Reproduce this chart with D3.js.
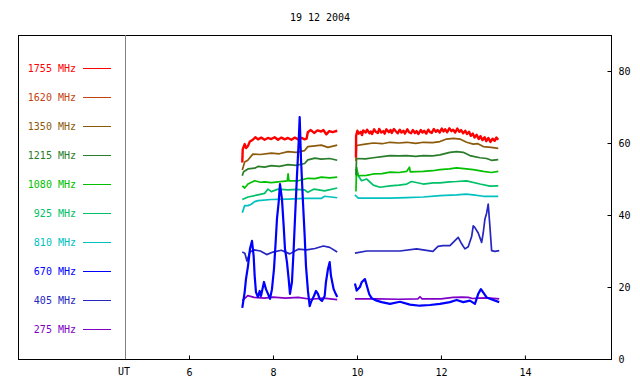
<!DOCTYPE html>
<html>
<head>
<meta charset="utf-8">
<script src="https://cdn.jsdelivr.net/npm/d3@7"></script>
<style>
  body { margin: 0; background: #fff; }
  text { font-family: "DejaVu Sans Mono", monospace; font-size: 10px; }
</style>
</head>
<body>
<div id="chart-area"></div>
<script>
// legend labels and colours (top to bottom)
var freqs = ["1755 MHz", "1620 MHz", "1350 MHz", "1215 MHz", "1080 MHz", "925 MHz", "810 MHz", "670 MHz", "405 MHz", "275 MHz"];
var colors = ["#ff0000", "#c44410", "#8c5a0a", "#2a7d2a", "#00c000", "#00c068", "#00c0c0", "#0000ff", "#2626c0", "#8000c8"];

var xTicks = [6, 8, 10, 12, 14];
var yTicks = [0, 20, 40, 60, 80];

// series: [hour UT, flux], two observing segments each
var s1755 = [
  [[7.269,54.6],[7.28,58.3],[7.326,59.7],[7.36,58.6],[7.405,59.2],[7.45,60.4],[7.52,60.9],[7.58,61.6],[7.643,61.0],[7.72,61.5],[7.8,60.9],[7.88,61.4],[7.96,61.1],[8.04,61.6],[8.12,60.9],[8.2,61.5],[8.28,61.0],[8.357,61.4],[8.44,60.9],[8.52,61.5],[8.6,61.0],[8.68,61.4],[8.755,61.0],[8.8,61.2],[8.83,63.0],[8.9,63.6],[8.98,62.8],[9.06,63.5],[9.15,63.2],[9.2,63.6],[9.27,62.4],[9.34,63.3],[9.42,63.0],[9.53,63.4]],
  [[9.976,56.0],[9.98,62.0],[10.01,63.4],[10.04,62.6],[10.09,63.1],[10.12,62.2],[10.15,63.5],[10.21,62.9],[10.24,63.7],[10.3,62.7],[10.33,63.2],[10.36,62.5],[10.41,63.8],[10.45,63.1],[10.5,62.8],[10.53,63.9],[10.58,62.9],[10.63,63.3],[10.66,62.6],[10.7,63.8],[10.76,63.0],[10.8,63.6],[10.83,62.8],[10.88,63.9],[10.93,63.2],[10.97,62.7],[11.02,63.7],[11.06,62.9],[11.11,63.4],[11.14,62.6],[11.2,63.8],[11.24,63.0],[11.29,62.7],[11.33,63.6],[11.38,62.8],[11.42,63.3],[11.46,62.5],[11.52,63.6],[11.56,62.9],[11.6,63.4],[11.65,62.6],[11.7,63.7],[11.74,63.0],[11.78,62.8],[11.83,63.9],[11.88,63.1],[11.92,63.6],[11.97,62.9],[12.02,64.0],[12.06,63.2],[12.1,63.8],[12.15,63.0],[12.2,64.1],[12.25,63.3],[12.29,63.7],[12.34,62.9],[12.39,64.0],[12.44,63.1],[12.48,63.6],[12.53,62.7],[12.58,63.4],[12.62,62.5],[12.67,63.1],[12.71,62.0],[12.76,62.6],[12.8,61.5],[12.85,62.3],[12.9,61.1],[12.94,61.9],[12.99,60.8],[13.04,61.6],[13.08,60.5],[13.13,61.4],[13.18,60.3],[13.23,61.2],[13.28,60.6],[13.32,61.5],[13.365,60.9]]
];
var s1350 = [
  [[7.269,52.5],[7.326,54.7],[7.4,55.2],[7.52,56.9],[7.7,56.8],[7.96,57.2],[8.15,57.0],[8.357,57.6],[8.55,57.4],[8.755,57.9],[8.83,59.0],[9.0,59.2],[9.15,59.4],[9.31,58.8],[9.53,59.4]],
  [[9.976,55.0],[9.99,59.3],[10.2,59.7],[10.389,60.0],[10.6,59.8],[10.786,60.2],[11.0,60.0],[11.183,60.2],[11.4,59.9],[11.579,60.2],[11.8,60.1],[11.976,60.4],[12.135,61.1],[12.3,61.3],[12.452,61.1],[12.611,60.2],[12.769,59.7],[12.88,59.8],[13.008,59.0],[13.2,58.8],[13.365,58.5]]
];
var s1215 = [
  [[7.269,50.9],[7.3,52.0],[7.405,52.8],[7.564,53.0],[7.643,53.5],[7.8,53.3],[7.96,53.7],[8.15,53.5],[8.357,54.0],[8.55,53.8],[8.755,54.3],[8.83,55.3],[9.0,55.8],[9.15,55.5],[9.35,55.7],[9.53,55.2]],
  [[9.976,51.0],[9.99,55.7],[10.2,55.6],[10.389,55.9],[10.6,56.2],[10.786,56.5],[11.0,56.4],[11.183,56.5],[11.4,56.3],[11.579,56.5],[11.8,56.4],[11.976,56.7],[12.214,57.4],[12.373,57.6],[12.531,57.4],[12.69,56.5],[12.8,56.2],[12.929,55.9],[13.088,55.7],[13.2,55.2],[13.365,55.4]]
];
var s1080 = [
  [[7.269,48.1],[7.326,47.5],[7.405,48.6],[7.564,49.5],[7.7,49.1],[7.8,49.2],[7.96,49.0],[8.12,49.2],[8.34,49.5],[8.36,51.4],[8.38,49.5],[8.6,49.5],[8.83,50.2],[9.0,50.1],[9.15,50.5],[9.35,50.3],[9.53,50.5]],
  [[9.976,46.5],[9.99,53.3],[10.032,50.9],[10.23,51.0],[10.389,51.4],[10.6,51.5],[10.786,51.9],[11.0,51.8],[11.183,52.1],[11.25,53.3],[11.27,52.0],[11.579,52.1],[11.8,52.3],[11.976,52.6],[12.2,52.8],[12.373,53.1],[12.55,52.9],[12.769,52.6],[13.008,52.1],[13.2,51.8],[13.365,52.1]]
];
var s925 = [
  [[7.269,44.3],[7.405,45.0],[7.643,45.6],[7.8,46.0],[7.881,47.2],[7.96,46.5],[8.12,47.2],[8.357,47.0],[8.55,47.1],[8.75,47.0],[8.83,46.3],[8.98,47.2],[9.23,46.7],[9.53,47.5]],
  [[9.976,52.8],[10.032,50.9],[10.11,49.5],[10.23,50.0],[10.389,48.3],[10.548,47.7],[10.786,48.1],[11.0,48.3],[11.183,48.6],[11.3,49.3],[11.579,48.6],[11.817,48.9],[11.976,48.9],[12.2,49.2],[12.373,49.3],[12.611,49.5],[12.929,48.6],[13.167,48.0],[13.365,48.1]]
];
var s810 = [
  [[7.269,40.6],[7.326,42.6],[7.405,42.6],[7.483,43.0],[7.564,43.7],[7.643,44.0],[7.96,44.3],[8.357,44.4],[8.755,44.6],[9.15,44.6],[9.23,45.2],[9.53,44.8]],
  [[9.952,45.6],[10.032,44.7],[10.389,44.7],[10.786,44.7],[11.183,44.8],[11.579,45.0],[11.976,45.4],[12.373,45.6],[12.6,45.8],[12.769,45.6],[13.008,45.2],[13.365,45.2]]
];
var s670 = [
  [[7.269,14.2],[7.326,18.6],[7.357,22.2],[7.405,25.8],[7.452,30.6],[7.5,32.8],[7.54,28.6],[7.564,23.1],[7.595,18.6],[7.643,17.2],[7.683,18.9],[7.714,17.5],[7.786,21.4],[7.833,19.4],[7.881,18.1],[7.929,16.7],[7.976,19.4],[8.024,25.0],[8.064,32.5],[8.095,38.9],[8.136,43.6],[8.167,48.6],[8.214,44.4],[8.255,36.9],[8.286,30.6],[8.333,26.9],[8.374,22.2],[8.405,18.1],[8.452,21.4],[8.493,30.6],[8.524,38.9],[8.571,50.8],[8.612,60.3],[8.636,67.2],[8.667,55.6],[8.714,43.6],[8.755,34.2],[8.786,25.8],[8.833,18.9],[8.874,14.7],[8.905,15.8],[8.976,17.5],[9.024,18.9],[9.071,18.1],[9.112,16.7],[9.167,16.1],[9.231,17.5],[9.262,21.4],[9.31,25.0],[9.35,26.9],[9.381,23.1],[9.445,19.4],[9.493,18.1],[9.531,17.2]],
  [[9.952,21.0],[9.993,19.0],[10.071,20.0],[10.112,21.3],[10.19,22.2],[10.293,18.0],[10.35,16.9],[10.469,16.2],[10.588,15.8],[10.786,15.3],[11.024,15.9],[11.262,15.1],[11.5,14.8],[11.738,15.0],[11.976,15.3],[12.214,15.8],[12.374,16.4],[12.531,15.8],[12.69,16.2],[12.81,15.3],[12.888,18.1],[12.952,19.4],[13.088,17.1],[13.245,16.4],[13.388,15.8]]
];
var s405 = [
  [[7.269,29.7],[7.33,29.4],[7.38,27.2],[7.45,29.7],[7.55,30.3],[7.7,30.0],[7.85,29.0],[8.0,29.7],[8.2,30.2],[8.4,29.2],[8.6,30.5],[8.8,30.3],[9.0,30.7],[9.2,31.4],[9.35,31.0],[9.53,29.7]],
  [[9.952,29.4],[10.231,30.0],[10.626,30.0],[11.024,30.0],[11.421,30.6],[11.81,29.9],[11.929,31.3],[12.048,31.5],[12.214,31.5],[12.333,32.9],[12.412,33.8],[12.493,32.0],[12.571,30.6],[12.65,31.2],[12.731,34.0],[12.769,37.0],[12.81,36.5],[12.888,35.0],[12.969,32.4],[13.007,35.0],[13.048,38.9],[13.088,40.5],[13.126,43.0],[13.167,36.7],[13.207,30.1],[13.286,29.9],[13.388,30.1]]
];
var s275 = [
  [[7.269,16.2],[7.4,17.6],[7.55,17.1],[7.8,16.9],[8.0,17.2],[8.3,16.9],[8.6,17.1],[8.9,16.6],[9.2,16.9],[9.53,16.5]],
  [[9.952,16.7],[10.5,16.7],[11.0,16.6],[11.45,16.7],[11.5,17.3],[11.55,16.7],[12.0,16.7],[12.29,17.1],[12.5,17.2],[12.65,17.1],[12.75,16.8],[12.9,16.9],[13.1,17.0],[13.388,16.7]]
];

// drawn back to front
var series = [
  {data: s275, color: colors[9], w: 1.7},
  {data: s405, color: colors[8], w: 1.7},
  {data: s810, color: colors[6], w: 1.7},
  {data: s925, color: colors[5], w: 1.7},
  {data: s1080, color: colors[4], w: 1.7},
  {data: s1215, color: colors[3], w: 1.7},
  {data: s1350, color: colors[2], w: 1.7},
  {data: s1755, color: colors[0], w: 2.4},
  {data: s670, color: colors[7], w: 2.2}
];

var width = 640, height = 384;
var box = {left: 18, right: 611, top: 35, bottom: 359};
var utX = 125;

var svg = d3.select("#chart-area")
  .append("svg")
  .attr("width", width)
  .attr("height", height);

var xScale = d3.scaleLinear()
  .domain([4.476, 16.05])
  .range([utX, box.right]);

var yScale = d3.scaleLinear()
  .domain([0, 90])
  .range([box.bottom, box.top]);

// title
svg.append("text")
  .attr("x", 320)
  .attr("y", 21)
  .attr("text-anchor", "middle")
  .text("19 12 2004");

// frame + UT separator
svg.append("rect")
  .attr("x", box.left + 0.5)
  .attr("y", box.top + 0.5)
  .attr("width", box.right - box.left)
  .attr("height", box.bottom - box.top)
  .attr("fill", "none")
  .attr("stroke", "#000");

svg.append("line")
  .attr("x1", utX + 0.5).attr("x2", utX + 0.5)
  .attr("y1", box.top).attr("y2", box.bottom)
  .attr("stroke", "#808080");

// axes
var xAxis = d3.axisBottom(xScale)
  .tickValues(xTicks)
  .tickSize(-4)
  .tickSizeOuter(0)
  .tickPadding(9);

var gx = svg.append("g")
  .attr("transform", "translate(0," + (box.bottom + 0.5) + ")")
  .call(xAxis);
gx.select(".domain").remove();

var yAxis = d3.axisRight(yScale)
  .tickValues(yTicks)
  .tickSize(-4)
  .tickSizeOuter(0)
  .tickPadding(7);

var gy = svg.append("g")
  .attr("transform", "translate(" + (box.right + 0.5) + ",0)")
  .call(yAxis);
gy.select(".domain").remove();

svg.selectAll(".tick line").attr("stroke", "#000");
svg.selectAll(".tick text").style("font-size", "10px");

svg.append("text")
  .attr("x", utX - 1)
  .attr("y", 375)
  .attr("text-anchor", "middle")
  .text("UT");

// legend
var legend = svg.selectAll(".legend")
  .data(freqs)
  .enter()
  .append("g")
  .attr("class", "legend")
  .attr("transform", function(d, i) { return "translate(0," + (68 + i * 29) + ")"; });

legend.append("text")
  .attr("x", 76)
  .attr("dy", "0.35em")
  .attr("text-anchor", "end")
  .attr("fill", function(d, i) { return colors[i]; })
  .text(function(d) { return d; });

legend.append("line")
  .attr("x1", 83).attr("x2", 111)
  .attr("y1", 0.5).attr("y2", 0.5)
  .attr("stroke", function(d, i) { return colors[i]; });

// data lines
var line = d3.line()
  .x(function(d) { return xScale(d[0]); })
  .y(function(d) { return yScale(d[1]); });

series.forEach(function(s) {
  s.data.forEach(function(seg) {
    svg.append("path")
      .attr("d", line(seg))
      .attr("fill", "none")
      .attr("stroke", s.color)
      .attr("stroke-width", s.w)
      .attr("stroke-linejoin", "round");
  });
});
</script>
</body>
</html>
